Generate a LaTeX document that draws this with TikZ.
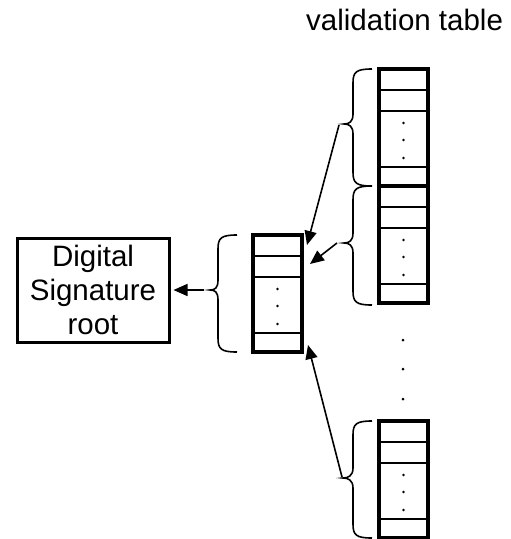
\documentclass[tikz,border=0pt]{standalone}
\usepackage{fontspec}
\setmainfont{Liberation Sans}
\usetikzlibrary{arrows.meta}
\tikzset{
  tblborder/.style={draw, line width=3.4pt, minimum width=49pt, minimum height=117pt, inner sep=0pt},
  tblrow/.style={line width=2.2pt},
  bracestyle/.style={line width=1.6pt},
  arr/.style={line width=1.6pt, -{Triangle[length=14pt,width=12pt]}},
  dotstyle/.style={fill=black, draw=none},
  sigbox/.style={draw, line width=3pt, minimum width=152pt, minimum height=104pt, align=center, font=\fontsize{29.5}{34}\selectfont, inner sep=0pt},
  lbl/.style={font=\fontsize{29.5}{34}\selectfont, inner sep=0pt}
}
% table with its inner rows: name, centre x, top y
\newcommand\valtable[3]{%
  \node[tblborder] (#1) at (#2,#3+58.5) {};
  \draw[tblrow] (#2-24.5,#3+21) -- (#2+24.5,#3+21);
  \draw[tblrow] (#2-24.5,#3+42) -- (#2+24.5,#3+42);
  \draw[tblrow] (#2-24.5,#3+98) -- (#2+24.5,#3+98);
  \fill[dotstyle] (#2,#3+54) circle (1.3);
  \fill[dotstyle] (#2,#3+71) circle (1.3);
  \fill[dotstyle] (#2,#3+89) circle (1.3);
}
% brace: xarm, xvert, xtip, top, bottom, tipy
\newcommand\leftbrace[6]{%
  \draw[bracestyle] (#1,#4) .. controls (#2+3,#4) and (#2,#4+3) .. (#2,#4+14)
    -- (#2,#6-10) .. controls (#2,#6-2) and (#3+5,#6) .. (#3,#6)
    .. controls (#3+5,#6) and (#2,#6+2) .. (#2,#6+10)
    -- (#2,#5-14) .. controls (#2,#5-3) and (#2+3,#5) .. (#1,#5);
}
\begin{document}
\begin{tikzpicture}[x=1pt,y=-1pt]
\useasboundingbox (0,0) rectangle (511,539);

\node[lbl, anchor=base west] (title) at (306,30) {validation table};

\valtable{t1}{403.5}{69}
\valtable{t2}{403.5}{186}
\valtable{tm}{277.5}{235}
\valtable{t3}{403.5}{421}

\leftbrace{372}{353}{344}{69}{186}{124}
\leftbrace{372}{353}{344}{186}{305}{243}
\leftbrace{372}{353}{343}{421}{538}{478}
\leftbrace{237}{218}{210}{235}{352}{290}

\fill[dotstyle] (403,340) circle (1.5);
\fill[dotstyle] (403,369) circle (1.5);
\fill[dotstyle] (403,399) circle (1.5);

\node[sigbox] (sig) at (93,290) {Digital\\Signature\\root};

\coordinate (a1s) at (339,125);
\coordinate (a1e) at (307,245);
\coordinate (a2s) at (337,243);
\coordinate (a2e) at (310,264);
\coordinate (a3s) at (342,477);
\coordinate (a3e) at (308,345);
\coordinate (a4s) at (204,290);

\draw[arr] (a1s) -- (a1e);
\draw[arr] (a2s) -- (a2e);
\draw[arr] (a3s) -- (a3e);
\draw[arr] (a4s) -- ([xshift=3pt]sig.east);
\end{tikzpicture}
\end{document}
